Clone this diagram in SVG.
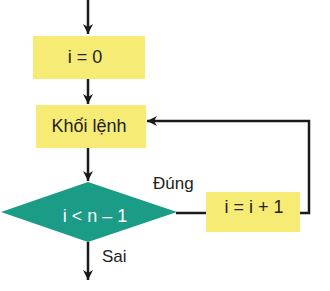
<svg xmlns="http://www.w3.org/2000/svg" width="330" height="291" viewBox="0 0 330 291">
<defs>
<marker id="ah" viewBox="0 0 10 10" refX="10" refY="5" markerWidth="4" markerHeight="4" orient="auto" markerUnits="strokeWidth">
<path d="M0,0 L10,5 L0,10 L3,5 Z" fill="#1a1a1a"/>
</marker>
<style>
.box{fill:#F6EB74;}
.t{font-family:"Liberation Sans",Arial,sans-serif;font-size:18px;fill:#222;text-anchor:middle;}
.lbl{font-family:"Liberation Sans",Arial,sans-serif;font-size:17px;fill:#222;}
.c{fill:none;stroke:#1a1a1a;stroke-width:2.5;}
</style>
</defs>
<rect width="330" height="291" fill="#fff"/>
<g id="connectors">
<line class="c" x1="88" y1="0" x2="88" y2="34" marker-end="url(#ah)"/>
<line class="c" x1="88" y1="79" x2="88" y2="104" marker-end="url(#ah)"/>
<line class="c" x1="88" y1="148" x2="88" y2="181" marker-end="url(#ah)"/>
<line class="c" x1="88" y1="242" x2="88" y2="280" marker-end="url(#ah)"/>
<line class="c" x1="176" y1="213" x2="207" y2="213"/>
<polyline class="c" points="300,213 309,213 309,121 147,121" marker-end="url(#ah)"/>
</g>
<g id="init">
<rect class="box" x="33" y="36" width="112" height="43"/>
<text class="t" x="85" y="63">i = 0</text>
</g>
<g id="body">
<rect class="box" x="36" y="105" width="110" height="43"/>
<text class="t" x="89" y="132">Khối lệnh</text>
</g>
<g id="cond">
<polygon points="1,212 88,182 177,212 88,242" fill="#1B9C86"/>
<text class="t" x="95" y="222" style="fill:#fff">i &lt; n – 1</text>
</g>
<g id="incr">
<rect class="box" x="206" y="192" width="94" height="40"/>
<text class="t" x="254" y="213">i = i + 1</text>
</g>
<g id="labels">
<text class="lbl" x="153" y="189">Đúng</text>
<text class="lbl" x="102" y="262">Sai</text>
</g>
</svg>
